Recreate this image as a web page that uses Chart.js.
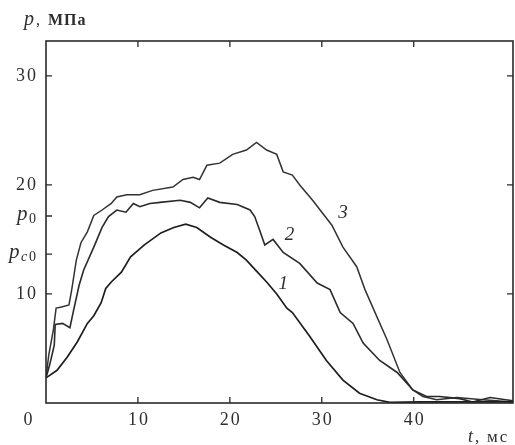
<!DOCTYPE html>
<html>
<head>
<meta charset="utf-8">
<script src="https://cdn.jsdelivr.net/npm/chart.js@4.4.0/dist/chart.umd.min.js"></script>
<style>
  html, body { margin: 0; padding: 0; background: #fff; }
  canvas { display: block; }
</style>
</head>
<body>
<canvas id="myChart" width="515" height="445"></canvas>
<script>
// pressure curves: t in ms, p in MPa
const curve1T = [0, 1.2, 2.3, 3.4, 4.5, 5.2, 6.0, 6.5, 7.1, 8.2, 9.2, 10.7, 12.5, 13.9, 15.2, 16.4, 17.9, 19.3, 20.8, 21.8, 22.9, 24.0, 25.1, 26.2, 26.8, 28.7, 30.5, 32.3, 34.1, 36.0, 37.4, 40.7, 45.0, 50.8];
const curve1P = [2.3, 3.0, 4.2, 5.6, 7.3, 8.0, 9.2, 10.5, 11.1, 12.0, 13.4, 14.5, 15.6, 16.1, 16.4, 16.1, 15.2, 14.5, 13.8, 13.1, 12.1, 11.1, 10.0, 8.7, 8.3, 6.1, 3.9, 2.1, 0.9, 0.3, 0.05, 0.1, 0.1, 0.1];

const curve2T = [0, 0.4, 0.9, 1.0, 1.8, 2.6, 3.0, 3.6, 4.1, 5.2, 6.1, 6.8, 7.7, 8.7, 9.5, 10.2, 11.3, 12.4, 14.6, 15.7, 16.7, 17.6, 18.9, 20.8, 22.2, 22.7, 23.3, 23.8, 24.7, 25.8, 27.6, 29.5, 30.9, 32.0, 33.4, 34.5, 36.3, 38.2, 39.9, 41.4, 42.8, 45.0, 46.4, 48.3, 50.8];
const curve2P = [2.3, 3.5, 5.3, 7.2, 7.3, 6.9, 8.5, 10.8, 12.2, 14.3, 16.1, 17.1, 17.7, 17.5, 18.3, 18.0, 18.3, 18.4, 18.6, 18.4, 17.9, 18.8, 18.4, 18.2, 17.7, 17.1, 15.7, 14.5, 15.0, 13.8, 12.8, 11.0, 10.4, 8.3, 7.3, 5.5, 3.9, 2.8, 1.2, 0.6, 0.6, 0.4, 0.1, 0.5, 0.2];

const curve3T = [0, 0.3, 0.8, 1.1, 1.7, 2.5, 2.8, 3.3, 3.8, 4.5, 5.2, 6.1, 7.1, 7.7, 8.8, 10.2, 11.6, 13.8, 14.9, 16.0, 16.7, 17.5, 18.9, 20.3, 21.8, 22.9, 24.0, 25.1, 25.8, 26.8, 27.6, 29.0, 31.1, 32.3, 33.8, 34.7, 36.0, 37.1, 38.5, 39.9, 41.0, 42.5, 44.7, 47.5, 50.8];
const curve3P = [2.3, 4.4, 6.7, 8.7, 8.8, 9.0, 10.4, 13.1, 14.7, 15.7, 17.2, 17.7, 18.3, 18.9, 19.1, 19.1, 19.5, 19.8, 20.5, 20.7, 20.5, 21.8, 22.0, 22.8, 23.2, 23.9, 23.2, 22.8, 21.2, 20.9, 20.0, 18.6, 16.3, 14.3, 12.5, 10.4, 7.9, 5.8, 2.8, 1.2, 0.6, 0.3, 0.5, 0.3, 0.1];

const xTicks = [0, 10, 20, 30, 40];
const yTicks = [10, 20, 30];
const pLevels = [17.15, 13.65]; // p0, pc0
const curveNames = ['1', '2', '3'];
const curveNamePos = [[25.8, 10.9], [26.5, 15.4], [32.3, 17.4]];

const serif = '"Liberation Serif", "DejaVu Serif", serif';
const ink = '#2e2e2e';

function pts(t, p) {
  return t.map((v, i) => ({ x: v, y: p[i] }));
}

const framePlugin = {
  id: 'frame',
  afterDraw(chart) {
    const ctx = chart.ctx;
    const a = chart.chartArea;
    const xs = chart.scales.x;
    const ys = chart.scales.y;
    const spacing = px => { if ('letterSpacing' in ctx) ctx.letterSpacing = px + 'px'; };
    ctx.save();

    // box + inward tick marks
    ctx.strokeStyle = '#2a2a2a';
    ctx.lineWidth = 1.6;
    ctx.strokeRect(a.left, a.top, a.right - a.left, a.bottom - a.top);
    ctx.lineWidth = 1.3;
    ctx.beginPath();
    xTicks.slice(1).forEach(v => {
      const x = xs.getPixelForValue(v);
      ctx.moveTo(x, a.bottom); ctx.lineTo(x, a.bottom - 6);
      ctx.moveTo(x, a.top); ctx.lineTo(x, a.top + 6);
    });
    yTicks.concat(pLevels).forEach(v => {
      const y = ys.getPixelForValue(v);
      ctx.moveTo(a.left, y); ctx.lineTo(a.left + 6, y);
    });
    yTicks.forEach(v => {
      const y = ys.getPixelForValue(v);
      ctx.moveTo(a.right, y); ctx.lineTo(a.right - 6, y);
    });
    ctx.stroke();

    // tick labels
    ctx.fillStyle = ink;
    ctx.font = '18px ' + serif;
    spacing(2);
    ctx.textBaseline = 'middle';
    ctx.textAlign = 'right';
    yTicks.forEach(v => {
      ctx.fillText(String(v), a.left - 8, ys.getPixelForValue(v));
    });
    ctx.textAlign = 'center';
    xTicks.forEach(v => {
      const x = xs.getPixelForValue(v);
      ctx.fillText(String(v), v === 0 ? x - 17 : x + 1, a.bottom + 17);
    });
    spacing(0);

    // p0 and pc0 labels
    ctx.textAlign = 'left';
    ctx.textBaseline = 'alphabetic';
    const yp0 = ys.getPixelForValue(pLevels[0]);
    ctx.font = 'italic 21px ' + serif;
    ctx.fillText('p', 17, yp0 + 4);
    ctx.font = '14px ' + serif;
    ctx.fillText('0', 29, yp0 + 7);
    const ypc = ys.getPixelForValue(pLevels[1]);
    ctx.font = 'italic 21px ' + serif;
    ctx.fillText('p', 9, ypc + 4);
    ctx.font = 'italic 14px ' + serif;
    ctx.fillText('c', 21, ypc + 7);
    ctx.font = '14px ' + serif;
    ctx.fillText('0', 29, ypc + 7);

    // axis titles
    ctx.font = 'italic 20px ' + serif;
    ctx.fillText('p', 24, 25);
    ctx.font = '16px ' + serif;
    ctx.fillText(',', 36, 25);
    ctx.font = 'bold 16px ' + serif;
    spacing(1);
    ctx.fillText('МПа', 48, 25);
    spacing(0);
    ctx.font = 'italic 18px ' + serif;
    ctx.fillText('t', 468, 442);
    ctx.font = '17px ' + serif;
    ctx.fillText(',', 475, 442);
    spacing(2);
    ctx.fillText('мс', 487, 442);
    spacing(0);

    // curve numbers
    ctx.font = 'italic 19px ' + serif;
    ctx.textAlign = 'center';
    ctx.textBaseline = 'middle';
    curveNames.forEach((n, i) => {
      ctx.fillText(n, xs.getPixelForValue(curveNamePos[i][0]), ys.getPixelForValue(curveNamePos[i][1]));
    });
    ctx.restore();
  }
};

const ctx = document.getElementById('myChart').getContext('2d');
new Chart(ctx, {
  type: 'scatter',
  data: {
    datasets: [
      { label: '1', data: pts(curve1T, curve1P), borderColor: '#1e1e1e', borderWidth: 1.7 },
      { label: '2', data: pts(curve2T, curve2P), borderColor: '#2a2a2a', borderWidth: 1.6 },
      { label: '3', data: pts(curve3T, curve3P), borderColor: '#333', borderWidth: 1.5 },
    ],
  },
  options: {
    responsive: false,
    animation: false,
    showLine: true,
    layout: { padding: { left: 46, right: 2, top: 41, bottom: 42 } },
    elements: { point: { radius: 0 }, line: { tension: 0 } },
    plugins: { legend: { display: false }, tooltip: { enabled: false } },
    scales: {
      x: { type: 'linear', min: 0, max: 50.8, display: false },
      y: { type: 'linear', min: 0, max: 33.2, display: false },
    },
  },
  plugins: [framePlugin],
});
</script>
</body>
</html>
